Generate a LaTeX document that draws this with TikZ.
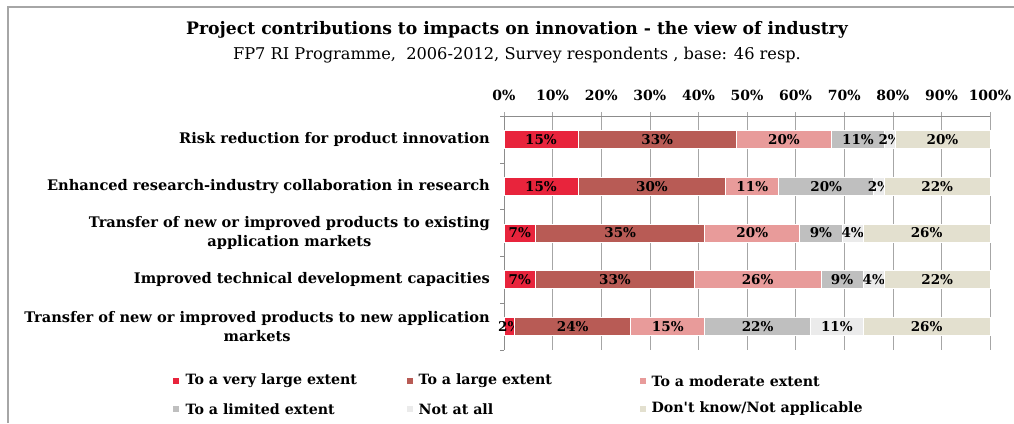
\documentclass[tikz,border=0pt]{standalone}
\usepackage{fontspec}
\setmainfont{DejaVu Serif}
\usetikzlibrary{positioning}

\definecolor{vlarge}{HTML}{E8243C}
\definecolor{large}{HTML}{B85B55}
\definecolor{moderate}{HTML}{E89B9A}
\definecolor{limited}{HTML}{BFBFBF}
\definecolor{notatall}{HTML}{EBEBEB}
\definecolor{dontknow}{HTML}{E3E0CF}
\definecolor{gridgray}{HTML}{A6A6A6}
\definecolor{axisgray}{HTML}{8C8C8C}

\newcommand\titlefont{\bfseries\fontsize{17.2}{20}\selectfont}
\newcommand\subfont{\fontsize{16.2}{19}\selectfont}
\newcommand\catfont{\bfseries\fontsize{14.6}{19}\selectfont}
\newcommand\barfont{\bfseries\fontsize{13.5}{15}\selectfont}
\newcommand\axfont{\bfseries\fontsize{14}{16}\selectfont}
\newcommand\keyfont{\bfseries\fontsize{14.2}{16}\selectfont}

\begin{document}
\begin{tikzpicture}[x=1pt, y=-1pt,
    bar/.style={draw=white, line width=0.8pt, minimum height=18pt, inner sep=0pt, outer sep=0pt, anchor=west},
    cnt/.style={minimum width=#1*10.565pt},
    cat/.style={font=\catfont, align=center, anchor=east, inner sep=0pt},
    key/.style={minimum width=6pt, minimum height=6pt, inner sep=0pt, anchor=west},
    keytext/.style={font=\keyfont, anchor=west, inner sep=0pt},
    every label/.style={font=\barfont, inner sep=0pt}]
    \useasboundingbox (0,0) rectangle (1014,423);
    \fill[white] (0,0) rectangle (1014,423);
    \draw[gridgray, line width=1.4pt] (8,423) -- (8,7) -- (1014,7);

    % Title
    \node [font=\titlefont] (title) at (517,30) {Project contributions to impacts on innovation - the view of industry};
    \node [font=\subfont, below=2pt of title] (sub) {FP7 RI Programme,~ 2006-2012, Survey respondents , base: 46 resp.};

    % Grid and axes
    \foreach \p in {0,10,...,100} {
        \draw[gridgray] (504+4.86*\p,112) -- (504+4.86*\p,350);
        \node [font=\axfont] (t\p) at (504+4.86*\p,95) {\p\%};
    }
    \draw[axisgray] (504,116) -- (990,116);
    \draw[axisgray] (504,116) -- (504,350);
    \foreach \y in {116,162.8,209.6,256.4,303.2,350}
        \draw[axisgray] (500,\y) -- (504,\y);

    % Categories
    \node [cat] (c1) at (490,139.4) {Risk reduction for product innovation};
    \node [cat] (c2) at (490,186.2) {Enhanced research-industry collaboration in research};
    \node [cat] (c3) at (490,233) {Transfer of new or improved products to existing\\application markets};
    \node [cat] (c4) at (490,279.8) {Improved technical development capacities};
    \node [cat] (c5) at (490,326.6) {Transfer of new or improved products to new application\\markets};

    % Bars
    \node [bar, fill=vlarge, cnt=7, label=center:15\%] (r1a) at (504,139.4) {};
    \node [bar, fill=large, cnt=15, label=center:33\%, right=0pt of r1a] (r1b) {};
    \node [bar, fill=moderate, cnt=9, label=center:20\%, right=0pt of r1b] (r1c) {};
    \node [bar, fill=limited, cnt=5, label=center:11\%, right=0pt of r1c] (r1d) {};
    \node [bar, fill=notatall, cnt=1, label=center:2\%, right=0pt of r1d] (r1e) {};
    \node [bar, fill=dontknow, cnt=9, label=center:20\%, right=0pt of r1e] (r1f) {};

    \node [bar, fill=vlarge, cnt=7, label=center:15\%] (r2a) at (504,186.2) {};
    \node [bar, fill=large, cnt=14, label=center:30\%, right=0pt of r2a] (r2b) {};
    \node [bar, fill=moderate, cnt=5, label=center:11\%, right=0pt of r2b] (r2c) {};
    \node [bar, fill=limited, cnt=9, label=center:20\%, right=0pt of r2c] (r2d) {};
    \node [bar, fill=notatall, cnt=1, label=center:2\%, right=0pt of r2d] (r2e) {};
    \node [bar, fill=dontknow, cnt=10, label=center:22\%, right=0pt of r2e] (r2f) {};

    \node [bar, fill=vlarge, cnt=3, label=center:7\%] (r3a) at (504,233) {};
    \node [bar, fill=large, cnt=16, label=center:35\%, right=0pt of r3a] (r3b) {};
    \node [bar, fill=moderate, cnt=9, label=center:20\%, right=0pt of r3b] (r3c) {};
    \node [bar, fill=limited, cnt=4, label=center:9\%, right=0pt of r3c] (r3d) {};
    \node [bar, fill=notatall, cnt=2, label=center:4\%, right=0pt of r3d] (r3e) {};
    \node [bar, fill=dontknow, cnt=12, label=center:26\%, right=0pt of r3e] (r3f) {};

    \node [bar, fill=vlarge, cnt=3, label=center:7\%] (r4a) at (504,279.8) {};
    \node [bar, fill=large, cnt=15, label=center:33\%, right=0pt of r4a] (r4b) {};
    \node [bar, fill=moderate, cnt=12, label=center:26\%, right=0pt of r4b] (r4c) {};
    \node [bar, fill=limited, cnt=4, label=center:9\%, right=0pt of r4c] (r4d) {};
    \node [bar, fill=notatall, cnt=2, label=center:4\%, right=0pt of r4d] (r4e) {};
    \node [bar, fill=dontknow, cnt=10, label=center:22\%, right=0pt of r4e] (r4f) {};

    \node [bar, fill=vlarge, cnt=1, label=center:2\%] (r5a) at (504,326.6) {};
    \node [bar, fill=large, cnt=11, label=center:24\%, right=0pt of r5a] (r5b) {};
    \node [bar, fill=moderate, cnt=7, label=center:15\%, right=0pt of r5b] (r5c) {};
    \node [bar, fill=limited, cnt=10, label=center:22\%, right=0pt of r5c] (r5d) {};
    \node [bar, fill=notatall, cnt=5, label=center:11\%, right=0pt of r5d] (r5e) {};
    \node [bar, fill=dontknow, cnt=12, label=center:26\%, right=0pt of r5e] (r5f) {};

    % Legend
    \node [key, fill=vlarge] (k1) at (173,381) {};
    \node [keytext, right=6pt of k1] (k1t) {To a very large extent};
    \node [key, fill=large] (k2) at (407,381) {};
    \node [keytext, right=5pt of k2] (k2t) {To a large extent};
    \node [key, fill=moderate] (k3) at (640,381) {};
    \node [keytext, right=5pt of k3] (k3t) {To a moderate extent};
    \node [key, fill=limited] (k4) at (173,409) {};
    \node [keytext, right=6pt of k4] (k4t) {To a limited extent};
    \node [key, fill=notatall] (k5) at (407,409) {};
    \node [keytext, right=5pt of k5] (k5t) {Not at all};
    \node [key, fill=dontknow] (k6) at (640,409) {};
    \node [keytext, right=5pt of k6] (k6t) {Don\textquotesingle t know/Not applicable};
\end{tikzpicture}
\end{document}
